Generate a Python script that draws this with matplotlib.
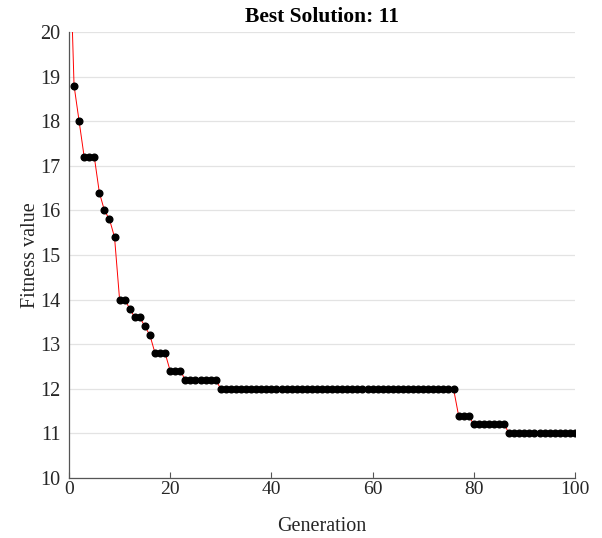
import matplotlib
matplotlib.use("Agg")
import matplotlib.pyplot as plt
import numpy as np

plt.rcParams['font.family'] = ['Liberation Serif', 'DejaVu Serif']

generations = list(range(0, 101))
fitness = ([22.6, 18.8, 18.0, 17.2, 17.2, 17.2, 16.4, 16.0, 15.8, 15.4,
            14.0, 14.0, 13.8, 13.6, 13.6, 13.4, 13.2, 12.8, 12.8, 12.8,
            12.4, 12.4, 12.4]
           + [12.2] * 7          # 23-29
           + [12.0] * 47         # 30-76
           + [11.4] * 3          # 77-79
           + [11.2] * 7          # 80-86
           + [11.0] * 14)        # 87-100
best = 11
xticks = [0, 20, 40, 60, 80, 100]
yticks = list(range(10, 21))

fig = plt.figure(figsize=(6.02, 5.38), dpi=100)
ax = fig.add_axes([0.1146, 0.1115, 0.8405, 0.829])
ax.plot(generations, fitness, color='red', linewidth=0.7, zorder=3)
ax.plot(generations, fitness, linestyle='none', marker='o', color='black',
        markersize=4.8, zorder=4)

ax.set_xlim(0, 100)
ax.set_ylim(10, 20)
ax.set_xticks(xticks)
ax.set_yticks(yticks)
ax.yaxis.grid(True, color='#e3e3e3', linewidth=0.9)
ax.set_axisbelow(True)
for s in ['top', 'right']:
    ax.spines[s].set_visible(False)
for s in ['left', 'bottom']:
    ax.spines[s].set_color('#555555')
    ax.spines[s].set_linewidth(0.9)
ax.tick_params(axis='x', direction='in', length=4, color='#555555', labelsize=14, pad=2)
ax.tick_params(axis='y', direction='in', length=0, labelsize=14.5, pad=6)
for lab in ax.get_xticklabels() + ax.get_yticklabels():
    lab.set_color('#262626')

ax.set_xlabel('Generation', fontsize=14.5, color='#262626', labelpad=14)
ax.set_ylabel('Fitness value', fontsize=14.5, color='#262626', labelpad=0)
ax.set_title(f'Best Solution: {best}', fontsize=15.5, fontweight='bold', pad=7)

fig.savefig('out.png', dpi=100)
